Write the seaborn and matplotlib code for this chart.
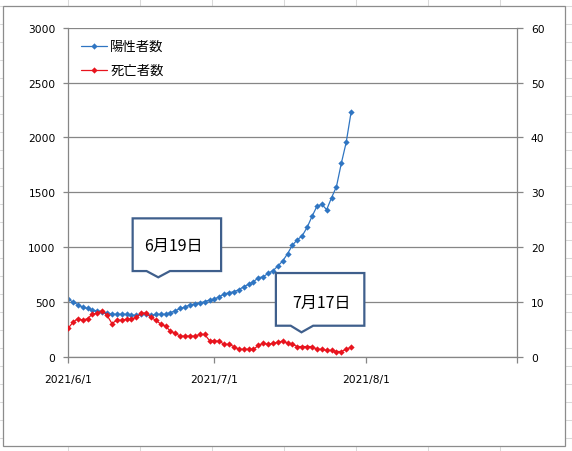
import numpy as np
import pandas as pd
import matplotlib
matplotlib.use("Agg")
import matplotlib.pyplot as plt
from matplotlib.patches import Polygon, Rectangle
from matplotlib.lines import Line2D
import seaborn as sns

# 7-day averages, 2021/6/1 .. 2021/7/29
start_date = "2021-06-01"
positives = [530, 500, 478, 453, 443, 424, 422, 413, 400, 389, 389, 389, 388, 380, 380,
             388, 389, 380, 388, 389, 389, 405, 421, 443, 455, 476, 483, 492, 504, 519,
             528, 549, 574, 586, 595, 613, 640, 662, 686, 722, 731, 762, 786, 829, 875,
             942, 1020, 1068, 1105, 1181, 1281, 1372, 1391, 1342, 1451, 1551, 1764, 1955, 2229]
deaths = [5.2, 6.3, 7.0, 6.7, 7.0, 7.8, 8.0, 8.4, 7.6, 6.1, 6.7, 6.7, 6.9, 6.9, 7.2,
          8.0, 8.0, 7.2, 6.7, 6.0, 5.6, 4.7, 4.3, 3.8, 3.8, 3.8, 3.8, 4.1, 4.1, 3.0,
          2.9, 2.9, 2.3, 2.3, 1.9, 1.4, 1.4, 1.4, 1.4, 2.1, 2.5, 2.3, 2.5, 2.7, 2.9,
          2.5, 2.3, 1.9, 1.9, 1.9, 1.9, 1.4, 1.4, 1.2, 1.2, 1.0, 1.0, 1.4, 1.8]
series_names = ["陽性者数", "死亡者数"]
x_ticks = ["2021-06-01", "2021-07-01", "2021-08-01", "2021-09-01"]
x_tick_labels = ["2021/6/1", "2021/7/1", "2021/8/1", ""]
left_ticks = [0, 500, 1000, 1500, 2000, 2500, 3000]
right_ticks = [0, 10, 20, 30, 40, 50, 60]
callout_labels = ["6月19日", "7月17日"]

dates = pd.date_range(start_date, periods=len(positives), freq="D")
df = pd.DataFrame({"date": dates, "pos": positives, "dead": deaths})

sns.set_style("white")
plt.rcParams["font.family"] = ["DejaVu Sans", "Noto Sans CJK JP"]
plt.rcParams["text.color"] = "black"
plt.rcParams["xtick.labelcolor"] = "black"
plt.rcParams["ytick.labelcolor"] = "black"

W, H = 572, 452
fig = plt.figure(figsize=(W / 100, H / 100), dpi=100)

# spreadsheet cells behind the chart
cell_color = "#d9d9d9"
for xc in np.arange(-4, W + 1, 72):
    fig.add_artist(Line2D([xc / W, xc / W], [0, 1], color=cell_color, lw=0.75, zorder=-3))
for yc in np.arange(7, H + 1, 18):
    fig.add_artist(Line2D([0, 1], [1 - yc / H, 1 - yc / H], color=cell_color, lw=0.75, zorder=-3))
fig.add_artist(Rectangle((3 / W, 1 - 447 / H), 562 / W, 440 / H, facecolor="white",
                         edgecolor="#8c8c8c", lw=0.9, zorder=-2))

gray = "#868686"
ax = fig.add_axes([68 / W, 1 - 358 / H, 449 / W, 329.3 / H])
ax.patch.set_alpha(0)

blue = "#2f75c2"
red = "#e8141e"
sns.lineplot(data=df, x="date", y="pos", ax=ax, color=blue, marker="D", markersize=3.2,
             markeredgewidth=0, linewidth=0.9, label=series_names[0])
ax2 = ax.twinx()
sns.lineplot(data=df, x="date", y="dead", ax=ax2, color=red, marker="D", markersize=3.2,
             markeredgewidth=0, linewidth=0.9, label=series_names[1])

ax.set_xlim(pd.Timestamp(x_ticks[0]), pd.Timestamp(x_ticks[-1]))
ax.set_ylim(0, 3000)
ax2.set_ylim(0, 60)
ax.set_xticks([pd.Timestamp(d) for d in x_ticks])
ax.set_xticklabels(x_tick_labels)
ax.set_yticks(left_ticks)
ax2.set_yticks(right_ticks)
ax.set_xlabel("")
ax.set_ylabel("")
ax2.set_ylabel("")

ax.grid(axis="y", color=gray, lw=0.9)
ax.grid(axis="x", visible=False)
ax2.grid(False)
for a in (ax, ax2):
    a.spines["top"].set_visible(False)
    for s in ("left", "right", "bottom"):
        a.spines[s].set_color(gray)
        a.spines[s].set_linewidth(0.9)
ax.spines["right"].set_visible(False)
ax2.spines["left"].set_visible(False)
ax2.spines["bottom"].set_visible(False)

ax.tick_params(axis="y", direction="out", length=3.5, width=0.9, color=gray, pad=5.5,
               labelsize=7.7, left=True, labelcolor="black")
ax.tick_params(axis="x", direction="out", length=4, width=0.9, color=gray, pad=8,
               labelsize=7.7, bottom=True, labelcolor="black")
ax2.tick_params(axis="y", direction="out", length=4, width=0.9, color=gray, pad=6,
                labelsize=7.7, right=True, labelcolor="black")

# legend
h1, l1 = ax.get_legend_handles_labels()
h2, l2 = ax2.get_legend_handles_labels()
ax.get_legend().remove()
ax2.get_legend().remove()
leg = ax2.legend(h1 + h2, l1 + l2, loc="upper left", bbox_to_anchor=(0.03, 0.965),
                 frameon=False, borderpad=0, borderaxespad=0, handlelength=1.9,
                 handletextpad=0.25, labelspacing=0.75,
                 prop={"family": "Noto Sans CJK JP", "size": 9.6})
for t in leg.get_texts():
    t.set_color("black")


def callout(a, x0, x1, ytop, ybot, b0, b1, tip, text, tpos):
    pts = [(x0, ytop), (x1, ytop), (x1, ybot), (b1, ybot), tip, (b0, ybot), (x0, ybot)]
    a.add_patch(Polygon(pts, closed=True, transform=a.transAxes, facecolor="white",
                        edgecolor="#3f5f8c", lw=1.6, zorder=6, clip_on=False))
    a.text(tpos[0], tpos[1], text, transform=a.transAxes, ha="center", va="center",
           fontsize=11.5, family=["Noto Sans CJK JP"], color="black", zorder=7)


callout(ax2, 0.144, 0.341, 0.421, 0.261, 0.175, 0.227, (0.201, 0.242),
        callout_labels[0], (0.2345, 0.338))
callout(ax2, 0.463, 0.660, 0.255, 0.095, 0.496, 0.546, (0.520, 0.075),
        callout_labels[1], (0.565, 0.166))

fig.savefig("out.png", dpi=100, facecolor="white")
